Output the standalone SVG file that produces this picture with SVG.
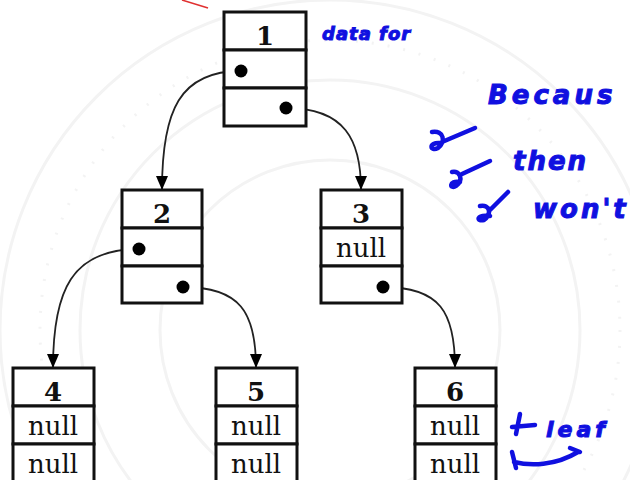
<svg xmlns="http://www.w3.org/2000/svg" width="630" height="480" viewBox="0 0 630 480">
  <style>
    .cell { fill: #fff; stroke: #111; stroke-width: 3; }
    .num { font-family: "DejaVu Serif", "Liberation Serif", serif; font-weight: bold; font-size: 26px; fill: #111; text-anchor: middle; }
    .nul { font-family: "DejaVu Serif", "Liberation Serif", serif; font-size: 26px; fill: #111; text-anchor: middle; }
    .dot { fill: #000; }
    .link { fill: none; stroke: #222; stroke-width: 1.8; }
    .ink { font-family: "DejaVu Sans", "Liberation Sans", sans-serif; font-style: italic; font-weight: bold; fill: #1010e0; stroke: #1010e0; stroke-width: 1; }
    .inkline { fill: none; stroke: #1010e0; stroke-width: 4.5; stroke-linecap: round; stroke-linejoin: round; }
    .seal { fill: none; stroke: #f3f3f3; stroke-width: 3; }
  </style>
  <defs>
    <marker id="head" viewBox="0 0 14 12" refX="14" refY="6" markerWidth="14" markerHeight="12" markerUnits="userSpaceOnUse" orient="auto">
      <path d="M0,0 L14,6 L0,12 Z" fill="#000"/>
    </marker>
  </defs>

  <rect width="630" height="480" fill="#fff"/>

  <!-- faint seal in the background -->
  <g id="seal">
    <circle cx="330" cy="330" r="330" class="seal"/>
    <circle cx="330" cy="330" r="290" class="seal" stroke-dasharray="2 14" stroke-width="7"/>
    <circle cx="330" cy="330" r="250" class="seal"/>
    <circle cx="330" cy="330" r="170" class="seal"/>
  </g>

  <!-- connectors -->
  <g id="connectors">
    <path class="link" d="M241,71 C180,71 162,110 162,190" marker-end="url(#head)"/>
    <path class="link" d="M286,108 C345,108 361,140 361,190" marker-end="url(#head)"/>
    <path class="link" d="M139,249 C72,249 53,290 53,368" marker-end="url(#head)"/>
    <path class="link" d="M183,287 C240,287 256,312 256,368" marker-end="url(#head)"/>
    <path class="link" d="M383,287 C440,287 455,312 455,368" marker-end="url(#head)"/>
  </g>

  <g id="node1">
    <rect class="cell" x="224" y="12" width="82" height="38"/>
    <rect class="cell" x="224" y="50" width="82" height="38"/>
    <rect class="cell" x="224" y="88" width="82" height="38"/>
    <text class="num" x="265" y="45">1</text>
    <circle class="dot" cx="241" cy="71" r="6.5"/>
    <circle class="dot" cx="286" cy="108" r="6.5"/>
  </g>

  <g id="node2">
    <rect class="cell" x="122" y="190" width="80" height="38"/>
    <rect class="cell" x="122" y="228" width="80" height="38"/>
    <rect class="cell" x="122" y="266" width="80" height="37"/>
    <text class="num" x="162" y="223">2</text>
    <circle class="dot" cx="139" cy="249" r="6.5"/>
    <circle class="dot" cx="183" cy="287" r="6.5"/>
  </g>

  <g id="node3">
    <rect class="cell" x="321" y="190" width="81" height="38"/>
    <rect class="cell" x="321" y="228" width="81" height="38"/>
    <rect class="cell" x="321" y="266" width="81" height="37"/>
    <text class="num" x="361" y="223">3</text>
    <text class="nul" x="361" y="257">null</text>
    <circle class="dot" cx="383" cy="287" r="6.5"/>
  </g>

  <g id="node4">
    <rect class="cell" x="13" y="368" width="81" height="38"/>
    <rect class="cell" x="13" y="406" width="81" height="38"/>
    <rect class="cell" x="13" y="444" width="81" height="40"/>
    <text class="num" x="53" y="401">4</text>
    <text class="nul" x="53" y="435">null</text>
    <text class="nul" x="53" y="473">null</text>
  </g>

  <g id="node5">
    <rect class="cell" x="216" y="368" width="81" height="38"/>
    <rect class="cell" x="216" y="406" width="81" height="38"/>
    <rect class="cell" x="216" y="444" width="81" height="40"/>
    <text class="num" x="256" y="401">5</text>
    <text class="nul" x="256" y="435">null</text>
    <text class="nul" x="256" y="473">null</text>
  </g>

  <g id="node6">
    <rect class="cell" x="415" y="368" width="81" height="38"/>
    <rect class="cell" x="415" y="406" width="81" height="38"/>
    <rect class="cell" x="415" y="444" width="81" height="40"/>
    <text class="num" x="455" y="401">6</text>
    <text class="nul" x="455" y="435">null</text>
    <text class="nul" x="455" y="473">null</text>
  </g>

  <!-- handwritten notes -->
  <g id="notes">
    <path d="M182,0 L208,8" stroke="#e03030" stroke-width="1.5" fill="none"/>
    <text class="ink" x="322" y="40" font-size="18" letter-spacing="1">data for</text>
    <text class="ink" x="488" y="104" font-size="26" letter-spacing="4">Becaus</text>
    <path class="inkline" d="M475,128 L442,142 M432,132 C444,130 446,142 438,148 C430,152 428,142 440,143"/>
    <text class="ink" x="513" y="170" font-size="26" letter-spacing="2">then</text>
    <path class="inkline" d="M490,161 L462,174 M452,172 C460,170 464,180 456,186 C450,190 448,180 460,182"/>
    <text class="ink" x="533" y="218" font-size="26" letter-spacing="3">won't</text>
    <path class="inkline" d="M508,192 L490,210 M480,206 C490,204 492,214 484,220 C476,222 476,214 490,216"/>
    <text class="ink" x="546" y="437" font-size="22" letter-spacing="4">leaf</text>
    <path class="inkline" d="M512,427 L535,425 M520,414 L516,434"/>
    <path class="inkline" d="M514,462 C530,466 555,466 578,452 M512,452 L516,468 M570,448 L580,452"/>
  </g>
</svg>
